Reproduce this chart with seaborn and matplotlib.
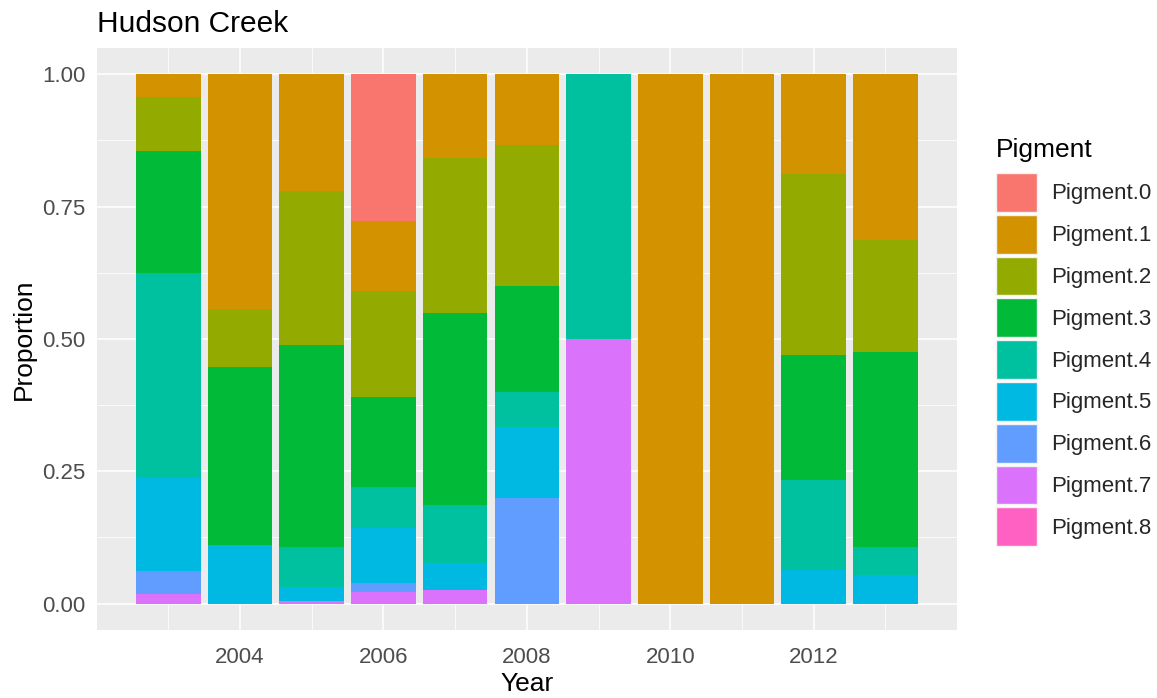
import matplotlib
matplotlib.use("Agg")
import matplotlib.pyplot as plt
from matplotlib.patches import Patch
from matplotlib.ticker import FixedLocator
import seaborn as sns
import pandas as pd

years = [2003, 2004, 2005, 2006, 2007, 2008, 2009, 2010, 2011, 2012, 2013]
pigments = ["Pigment.0", "Pigment.1", "Pigment.2", "Pigment.3", "Pigment.4",
            "Pigment.5", "Pigment.6", "Pigment.7", "Pigment.8"]
pig0 = [0, 0, 0, 0.278, 0, 0, 0, 0, 0, 0, 0]
pig1 = [0.043, 0.443, 0.221, 0.131, 0.159, 0.133, 0, 1, 1, 0.189, 0.3125]
pig2 = [0.103, 0.111, 0.290, 0.201, 0.292, 0.267, 0, 0, 0, 0.341, 0.2125]
pig3 = [0.229, 0.336, 0.383, 0.170, 0.363, 0.200, 0, 0, 0, 0.237, 0.369]
pig4 = [0.388, 0, 0.074, 0.077, 0.110, 0.067, 0.5, 0, 0, 0.170, 0.053]
pig5 = [0.175, 0.110, 0.028, 0.105, 0.051, 0.133, 0, 0, 0, 0.063, 0.053]
pig6 = [0.044, 0, 0, 0.017, 0, 0.200, 0, 0, 0, 0, 0]
pig7 = [0.018, 0, 0.004, 0.021, 0.025, 0, 0.5, 0, 0, 0, 0]
pig8 = [0, 0, 0, 0, 0, 0, 0, 0, 0, 0, 0]
colors = ["#F8766D", "#D39200", "#93AA00", "#00BA38", "#00C19F",
          "#00B9E3", "#619CFF", "#DB72FB", "#FF61C3"]
xticks = [2004, 2006, 2008, 2010, 2012]
xtick_labels = ["2004", "2006", "2008", "2010", "2012"]
yticks = [0, 0.25, 0.5, 0.75, 1.0]
ytick_labels = ["0.00", "0.25", "0.50", "0.75", "1.00"]

series = [pig0, pig1, pig2, pig3, pig4, pig5, pig6, pig7, pig8]
rows = []
for name, vals in zip(pigments, series):
    for y, v in zip(years, vals):
        rows.append({"Year": y, "Proportion": v, "Pigment": name})
df = pd.DataFrame(rows)

sns.set_theme(style="darkgrid")
plt.rcParams["font.family"] = ["Liberation Sans", "DejaVu Sans"]

fig = plt.figure(figsize=(11.57, 6.98), dpi=100)
ax = fig.add_axes([97 / 1157, 1 - 630 / 698, (956.7 - 97) / 1157, (630 - 47.7) / 698])

palette = dict(zip(pigments, colors))
sns.histplot(data=df, x="Year", weights="Proportion", hue="Pigment",
             hue_order=pigments, palette=palette, multiple="stack",
             discrete=True, shrink=0.9, alpha=1, linewidth=0,
             edgecolor="none", legend=False, ax=ax)

ax.set_facecolor("#EBEBEB")
ax.set_xlim(2002.005, 2013.995)
ax.set_ylim(-0.05, 1.05)
ax.xaxis.set_major_locator(FixedLocator(xticks))
ax.xaxis.set_minor_locator(FixedLocator([2003, 2005, 2007, 2009, 2011, 2013]))
ax.yaxis.set_major_locator(FixedLocator(yticks))
ax.yaxis.set_minor_locator(FixedLocator([0.125, 0.375, 0.625, 0.875]))
ax.set_yticklabels(ytick_labels)
ax.set_xticklabels(xtick_labels)
ax.grid(which="major", color="white", linewidth=1.1)
ax.grid(which="minor", color="white", linewidth=0.55)
ax.set_axisbelow(True)
for s in ax.spines.values():
    s.set_visible(False)
ax.tick_params(axis="both", which="major", length=5, width=0.9, color="#333333",
               labelcolor="#4D4D4D", labelsize=16)
ax.tick_params(axis="x", which="major", pad=7)
ax.tick_params(axis="y", which="major", pad=3.5)
ax.tick_params(axis="both", which="minor", length=0)

ax.set_xlabel("Year", fontsize=19, color="black", labelpad=3)
ax.set_ylabel("Proportion", fontsize=19, color="black", labelpad=4)
ax.set_title("Hudson Creek", loc="left", fontsize=21.5, color="black", pad=11)

fig.text(996 / 1157, 1 - 157 / 698, "Pigment", fontsize=19, color="black",
         ha="left", va="baseline")
handles = [Patch(facecolor=c, edgecolor="#F2F2F2", linewidth=1.0) for c in colors]
leg = fig.legend(handles, pigments, loc="upper left",
                 bbox_to_anchor=(996 / 1157, 1 - 173 / 698), frameon=False,
                 fontsize=16, handlelength=1.83,
                 handleheight=2.31, labelspacing=0.135, handletextpad=0.63,
                 borderpad=0, borderaxespad=0)

fig.savefig("out.png", dpi=100)
